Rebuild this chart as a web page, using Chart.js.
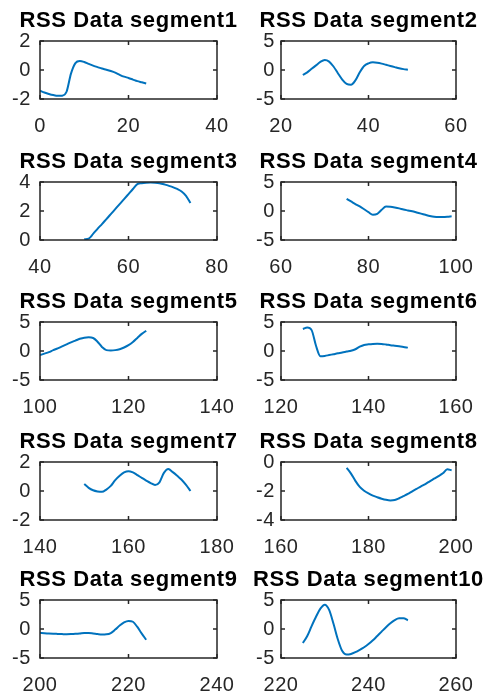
<!DOCTYPE html>
<html>
<head>
<meta charset="utf-8">
<script src="https://cdn.jsdelivr.net/npm/chart.js@4.4.1/dist/chart.umd.min.js"></script>
<style>
  html, body { margin: 0; padding: 0; background: #fff; overflow: hidden; }
  #fig { position: relative; width: 494px; height: 696px; }
  #fig canvas { position: absolute; }
</style>
</head>
<body>
<div id="fig"></div>
<script>
// subplot titles and axis limits
const titles = ['RSS Data segment1', 'RSS Data segment2', 'RSS Data segment3', 'RSS Data segment4',
  'RSS Data segment5', 'RSS Data segment6', 'RSS Data segment7', 'RSS Data segment8',
  'RSS Data segment9', 'RSS Data segment10'];
const xMins = [0, 20, 40, 60, 100, 120, 140, 160, 200, 220];
const xMaxs = [40, 60, 80, 100, 140, 160, 180, 200, 240, 260];
const yMins = [-2, -5, 0, -5, -5, -5, -2, -4, -5, -5];
const yMaxs = [2, 5, 4, 5, 5, 5, 2, 0, 5, 5];
const ySteps = [2, 5, 2, 5, 5, 5, 2, 2, 5, 5];
const xStarts = [0, 25, 50, 75, 100, 125, 150, 175, 200, 225];

// RSS values, one per sample
const seg1 = [-1.43, -1.55, -1.65, -1.73, -1.78, -1.77, -1.5, -0.25, 0.48, 0.62, 0.55, 0.42, 0.3,
  0.2, 0.1, 0.02, -0.07, -0.18, -0.33, -0.46, -0.55, -0.66, -0.77, -0.85, -0.93];
const seg2 = [-0.86, -0.4, 0.2, 0.8, 1.4, 1.72, 1.45, 0.6, -0.55, -1.65, -2.4, -2.55, -1.8, -0.4,
  0.7, 1.15, 1.32, 1.25, 1.1, 0.9, 0.7, 0.5, 0.3, 0.15, 0.05];
const seg3 = [0.05, 0.1, 0.42, 0.77, 1.1, 1.44, 1.78, 2.13, 2.48, 2.82, 3.17, 3.52, 3.85, 3.92,
  3.95, 3.96, 3.95, 3.92, 3.85, 3.75, 3.65, 3.52, 3.35, 3.05, 2.55];
const seg4 = [2.1, 1.65, 1.2, 0.78, 0.3, -0.2, -0.65, -0.5, 0.2, 0.78, 0.72, 0.6, 0.45, 0.25,
  0.1, -0.05, -0.25, -0.45, -0.65, -0.85, -1.0, -1.05, -1.05, -1.0, -0.9];
const seg5 = [-0.7, -0.45, -0.2, 0.15, 0.45, 0.8, 1.15, 1.5, 1.8, 2.1, 2.3, 2.35, 2.25, 1.6,
  0.7, 0.15, 0.1, 0.15, 0.3, 0.6, 1.0, 1.55, 2.25, 2.95, 3.5];
const seg6 = [3.8, 4.05, 3.6, 0.9, -0.9, -0.85, -0.7, -0.55, -0.4, -0.27, -0.1, 0.05, 0.3,
  0.75, 1.05, 1.15, 1.22, 1.25, 1.22, 1.12, 1.0, 0.9, 0.8, 0.7, 0.58];
const seg7 = [0.48, 0.22, 0.05, -0.03, -0.06, 0.1, 0.35, 0.75, 1.05, 1.28, 1.37, 1.28, 1.1,
  0.9, 0.72, 0.55, 0.42, 0.6, 1.25, 1.52, 1.3, 1.05, 0.78, 0.42, 0.0];
const seg8 = [-0.4, -0.8, -1.3, -1.72, -1.98, -2.17, -2.32, -2.43, -2.53, -2.61, -2.65, -2.62,
  -2.5, -2.35, -2.2, -2.02, -1.85, -1.68, -1.52, -1.33, -1.15, -0.97, -0.78, -0.5, -0.57];
const seg9 = [-0.65, -0.72, -0.78, -0.82, -0.85, -0.88, -0.9, -0.88, -0.84, -0.78, -0.7, -0.7,
  -0.78, -0.88, -0.95, -0.92, -0.7, -0.1, 0.6, 1.15, 1.4, 1.25, 0.35, -0.8, -1.85];
const seg10 = [-2.4, -1.2, 0.5, 2.1, 3.5, 4.2, 3.3, 0.9, -1.8, -3.8, -4.4, -4.3, -4.0, -3.6,
  -3.15, -2.6, -1.95, -1.2, -0.45, 0.3, 1.0, 1.55, 1.85, 1.85, 1.5];
const segments = [seg1, seg2, seg3, seg4, seg5, seg6, seg7, seg8, seg9, seg10];

// grid placement (page pixels)
const rowTops = [0, 141, 281, 421, 559];
const colLefts = [0, 247];
const colWidths = [257, 243];
const axisWidths = [40, 34];
const labelGaps = [9, 6];
const canvasHeight = 137;

const axisColor = '#262626';
const tickFont = { family: "'Liberation Sans', Arial, sans-serif", size: 20 };

// MATLAB text is set a little wider than Liberation Sans
const spacingPlugin = {
  id: 'wideText',
  beforeDraw(chart) { chart.ctx.letterSpacing = '0.6px'; }
};

// draws the closed MATLAB-style box and inward tick marks
const boxPlugin = {
  id: 'matlabBox',
  afterDatasetsDraw(chart) {
    const { ctx, chartArea: a } = chart;
    const x = chart.scales.x, y = chart.scales.y;
    ctx.save();
    ctx.strokeStyle = axisColor;
    ctx.lineWidth = 1.5;
    ctx.strokeRect(a.left, a.top, a.right - a.left, a.bottom - a.top);
    ctx.beginPath();
    x.ticks.forEach(t => {
      const px = x.getPixelForValue(t.value);
      ctx.moveTo(px, a.bottom); ctx.lineTo(px, a.bottom - 4);
      ctx.moveTo(px, a.top); ctx.lineTo(px, a.top + 4);
    });
    y.ticks.forEach(t => {
      const py = y.getPixelForValue(t.value);
      ctx.moveTo(a.left, py); ctx.lineTo(a.left + 4, py);
      ctx.moveTo(a.right, py); ctx.lineTo(a.right - 4, py);
    });
    ctx.stroke();
    ctx.restore();
  }
};

const fig = document.getElementById('fig');

segments.forEach((values, k) => {
  const row = Math.floor(k / 2), col = k % 2;
  const canvas = document.createElement('canvas');
  canvas.width = colWidths[col];
  canvas.height = canvasHeight;
  canvas.style.left = colLefts[col] + 'px';
  canvas.style.top = rowTops[row] + 'px';
  fig.appendChild(canvas);

  const points = values.map((v, i) => ({ x: xStarts[k] + i, y: v }));
  const sideW = axisWidths[col];

  new Chart(canvas.getContext('2d'), {
    type: 'line',
    data: {
      datasets: [{
        data: points,
        borderColor: '#0072BD',
        borderWidth: 2,
        pointRadius: 0,
        cubicInterpolationMode: 'monotone',
        fill: false
      }]
    },
    options: {
      responsive: false,
      animation: false,
      events: [],
      layout: { padding: 0 },
      plugins: {
        legend: { display: false },
        tooltip: { enabled: false },
        title: {
          display: true,
          text: titles[k],
          color: '#000',
          font: { family: "'Liberation Sans', Arial, sans-serif", size: 22, weight: 'bold', lineHeight: 1.2 },
          padding: { top: 7.3, bottom: 7.3 }
        }
      },
      scales: {
        x: {
          type: 'linear',
          min: xMins[k],
          max: xMaxs[k],
          ticks: { stepSize: 20, autoSkip: false, maxRotation: 0, color: axisColor, font: tickFont, padding: 15 },
          grid: { display: false, drawTicks: false },
          border: { display: false },
          afterFit: s => { s.height = canvasHeight - 99; }
        },
        y: {
          position: 'left',
          min: yMins[k],
          max: yMaxs[k],
          ticks: { stepSize: ySteps[k], autoSkip: false, color: axisColor, font: tickFont, padding: labelGaps[col] },
          grid: { display: false, drawTicks: false },
          border: { display: false },
          afterFit: s => { s.width = sideW; }
        },
        // empty right axis keeps the plot box centred under the title
        yRight: {
          position: 'right',
          ticks: { display: false },
          grid: { display: false, drawTicks: false },
          border: { display: false },
          afterFit: s => { s.width = sideW; }
        }
      }
    },
    plugins: [spacingPlugin, boxPlugin]
  });
});
</script>
</body>
</html>
